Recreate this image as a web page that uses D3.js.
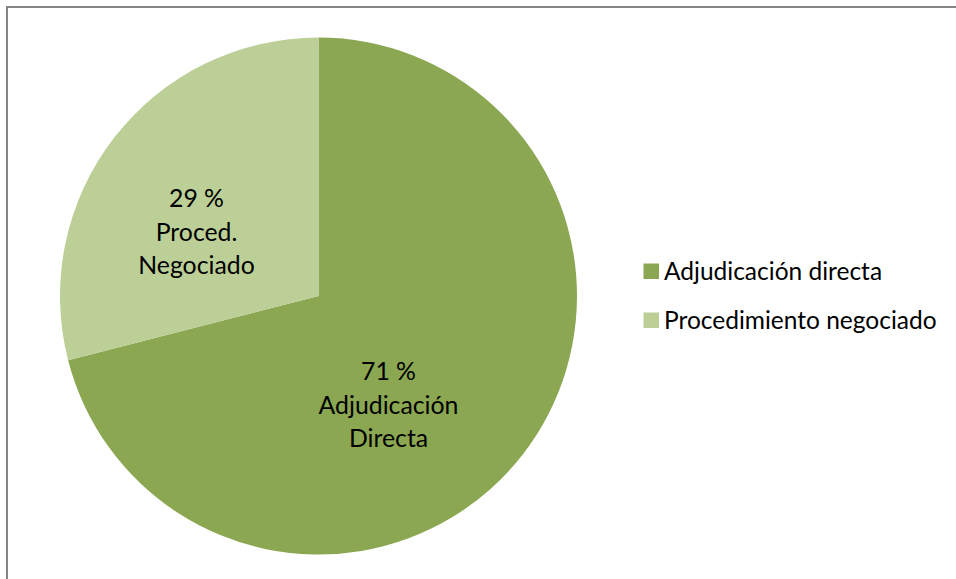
<!DOCTYPE html>
<html><head><meta charset="utf-8">
<script src="https://cdn.jsdelivr.net/npm/d3@7"></script>
<style>html,body{margin:0;padding:0;background:#fff;}svg{display:block;}</style>
</head><body>
<svg id="c" width="956" height="579"></svg>
<script>
const categories = ["Adjudicación directa", "Procedimiento negociado"];
const values = [71, 29];
const sliceLabels = [["71 %", "Adjudicación", "Directa"], ["29 %", "Proced.", "Negociado"]];
const colors = ["#8ba752", "#bccf97"];

const svg = d3.select("#c");
const font = "Lato, 'Open Sans', sans-serif";

svg.append("rect").attr("x", 7).attr("y", 7).attr("width", 1000).attr("height", 1000)
  .attr("fill", "#fff").attr("stroke", "#858585").attr("stroke-width", 2);

const cx = 318.5, cy = 296, r = 258.5;
const pie = d3.pie().sort(null).value(d => d)(values);
const arc = d3.arc().innerRadius(0).outerRadius(r);
const g = svg.append("g").attr("transform", `translate(${cx},${cy})`);
g.selectAll("path").data(pie).join("path").attr("d", arc).attr("fill", (d, i) => colors[i]);

const labelPos = [[70, 109], [-122, -64]];
pie.forEach((d, i) => {
  const t = g.append("text").attr("text-anchor", "middle").attr("font-family", font)
    .attr("font-size", 24.8).attr("fill", "#000")
    .attr("transform", `translate(${labelPos[i][0]},${labelPos[i][1]})`);
  sliceLabels[i].forEach((s, j) => t.append("tspan").attr("x", 0).attr("y", (j - 1) * 33.5 + 8.5).text(s));
});

const lg = svg.append("g");
categories.forEach((c, i) => {
  const y = 271 + i * 49;
  lg.append("rect").attr("x", 643.5).attr("y", y - 7.5).attr("width", 15.5).attr("height", 15.5).attr("fill", colors[i]);
  lg.append("text").attr("x", 664).attr("y", y + 8.5).attr("font-family", font).attr("font-size", 24.5)
    .attr("fill", "#000").text(c);
});
</script>
</body></html>
